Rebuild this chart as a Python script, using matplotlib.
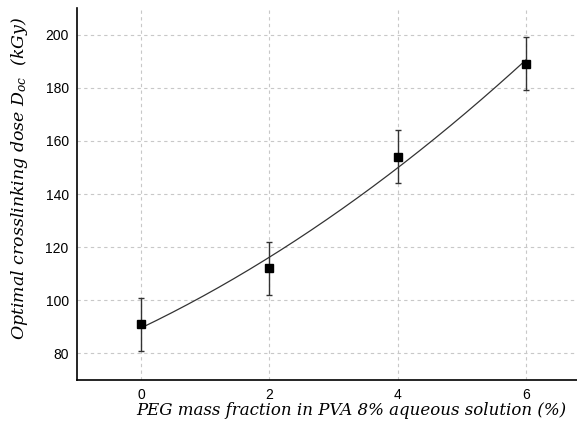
import matplotlib
matplotlib.use('Agg')
from matplotlib import pyplot as plt
import numpy as np

# PEG mass fraction (%) and optimal crosslinking dose (kGy)
peg = [0, 2, 4, 6]
dose = [91, 112, 154, 189]
dose_err = [10, 10, 10, 10]

plt.rcParams['mathtext.fontset'] = 'dejavuserif'

fig = plt.figure(figsize=(5.77, 4.28), dpi=100)
ax = fig.add_axes([0.1334, 0.1121, 0.8666, 0.8692])

ax.grid(True, color='#c8c8c8', linestyle=(0, (3, 3)), linewidth=0.8)
ax.set_axisbelow(True)

# second-order fit through the points
coef = np.polyfit(peg, dose, 2)
xfit = np.linspace(0, 6, 200)
ax.plot(xfit, np.polyval(coef, xfit), color='#333333', linewidth=0.9)

ax.errorbar(peg, dose, yerr=dose_err, fmt='s', color='black', ms=5.5,
            ecolor='#333333', elinewidth=1.0, capsize=2.3, capthick=1.0)

ax.set_xlim(-1, 6.8)
ax.set_ylim(70, 210)
ax.set_xticks([0, 2, 4, 6])
ax.set_yticks([80, 100, 120, 140, 160, 180, 200])

for side in ['top', 'right']:
    ax.spines[side].set_visible(False)
for side in ['left', 'bottom']:
    ax.spines[side].set_linewidth(1.2)
ax.tick_params(length=0, pad=6, labelsize=10)
for lab in ax.get_xticklabels() + ax.get_yticklabels():
    lab.set_family('Liberation Sans')

fig.text(0.608, 0.042, 'PEG mass fraction in PVA 8% aqueous solution (%)',
         ha='center', va='center', family='DejaVu Serif', style='italic',
         fontsize=12)
fig.text(0.034, 0.584, r'Optimal crosslinking dose $D_{oc}$  (kGy)',
         ha='center', va='center', rotation=90, family='DejaVu Serif',
         style='italic', fontsize=12.5)

fig.savefig('out.png', dpi=100)
